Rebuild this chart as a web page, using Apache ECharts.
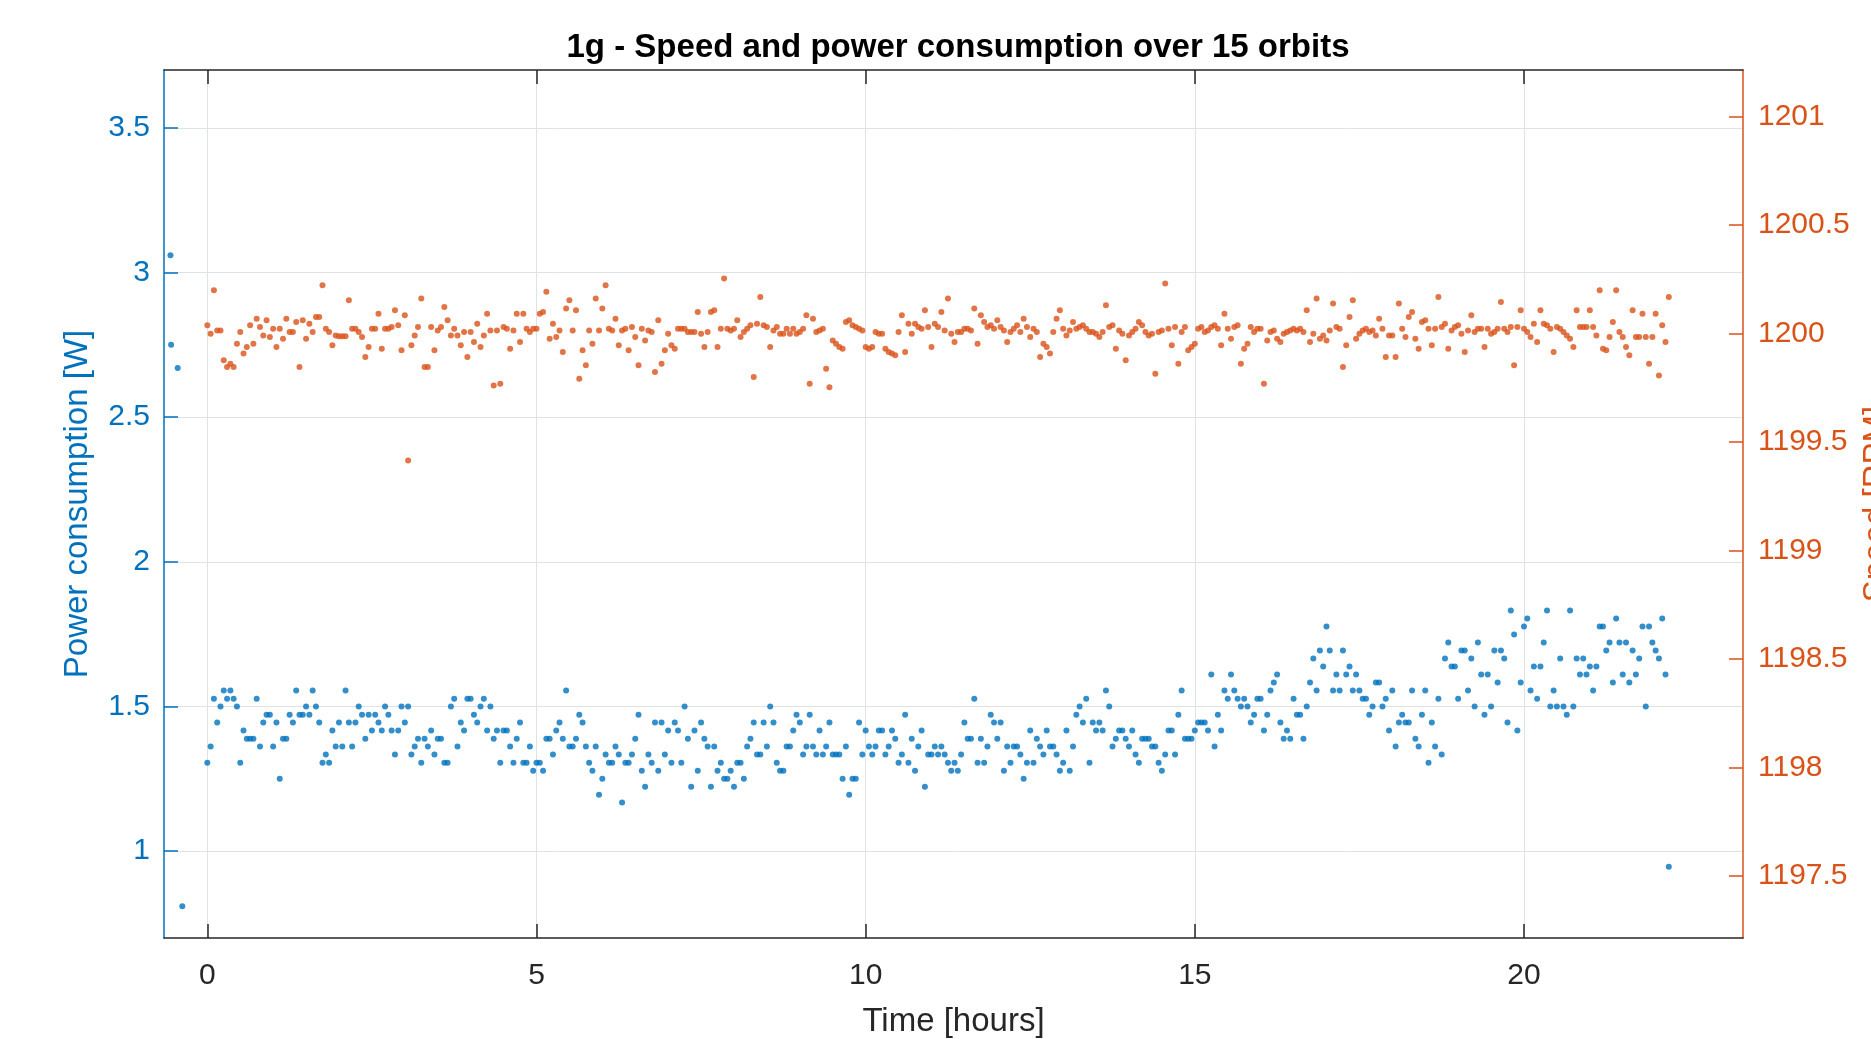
<!DOCTYPE html>
<html>
<head>
<meta charset="utf-8">
<title>1g - Speed and power consumption over 15 orbits</title>
<script src="https://cdn.jsdelivr.net/npm/echarts@6/dist/echarts.min.js"></script>
<style>
  html, body { margin: 0; padding: 0; background: #ffffff; }
  #chart { width: 1871px; height: 1039px; }
</style>
</head>
<body>
<div id="chart"></div>
<script>
// start-up samples before t = 0 (power only)
const preTime = [-0.56, -0.55, -0.45, -0.38];
const prePower = [3.06, 2.75, 2.67, 0.81];

// sample times [hours]
const timeH = [
  0,0.05,0.1,0.15,0.2,0.25,0.3,0.35,0.4,0.45,0.5,0.55,0.6,0.65,0.7,0.75,0.8,0.85,0.9,0.95,
  1,1.05,1.1,1.15,1.2,1.25,1.3,1.35,1.4,1.45,1.5,1.55,1.6,1.65,1.7,1.75,1.8,1.85,1.9,1.95,
  2,2.05,2.1,2.15,2.2,2.25,2.3,2.35,2.4,2.45,2.5,2.55,2.6,2.65,2.7,2.75,2.8,2.85,2.9,2.95,
  3,3.05,3.1,3.15,3.2,3.25,3.3,3.35,3.4,3.45,3.5,3.55,3.6,3.65,3.7,3.75,3.8,3.85,3.9,3.95,
  4,4.05,4.1,4.15,4.2,4.25,4.3,4.35,4.4,4.45,4.5,4.55,4.6,4.65,4.7,4.75,4.8,4.85,4.9,4.95,
  5,5.05,5.1,5.15,5.2,5.25,5.3,5.35,5.4,5.45,5.5,5.55,5.6,5.65,5.7,5.75,5.8,5.85,5.9,5.95,
  6,6.05,6.1,6.15,6.2,6.25,6.3,6.35,6.4,6.45,6.5,6.55,6.6,6.65,6.7,6.75,6.8,6.85,6.9,6.95,
  7,7.05,7.1,7.15,7.2,7.25,7.3,7.35,7.4,7.45,7.5,7.55,7.6,7.65,7.7,7.75,7.8,7.85,7.9,7.95,
  8,8.05,8.1,8.15,8.2,8.25,8.3,8.35,8.4,8.45,8.5,8.55,8.6,8.65,8.7,8.75,8.8,8.85,8.9,8.95,
  9,9.05,9.1,9.15,9.2,9.25,9.3,9.35,9.4,9.45,9.5,9.55,9.6,9.65,9.7,9.75,9.8,9.85,9.9,9.95,
  10,10.05,10.1,10.15,10.2,10.25,10.3,10.35,10.4,10.45,10.5,10.55,10.6,10.65,10.7,10.75,10.8,10.85,10.9,10.95,
  11,11.05,11.1,11.15,11.2,11.25,11.3,11.35,11.4,11.45,11.5,11.55,11.6,11.65,11.7,11.75,11.8,11.85,11.9,11.95,
  12,12.05,12.1,12.15,12.2,12.25,12.3,12.35,12.4,12.45,12.5,12.55,12.6,12.65,12.7,12.75,12.8,12.85,12.9,12.95,
  13,13.05,13.1,13.15,13.2,13.25,13.3,13.35,13.4,13.45,13.5,13.55,13.6,13.65,13.7,13.75,13.8,13.85,13.9,13.95,
  14,14.05,14.1,14.15,14.2,14.25,14.3,14.35,14.4,14.45,14.5,14.55,14.6,14.65,14.7,14.75,14.8,14.85,14.9,14.95,
  15,15.05,15.1,15.15,15.2,15.25,15.3,15.35,15.4,15.45,15.5,15.55,15.6,15.65,15.7,15.75,15.8,15.85,15.9,15.95,
  16,16.05,16.1,16.15,16.2,16.25,16.3,16.35,16.4,16.45,16.5,16.55,16.6,16.65,16.7,16.75,16.8,16.85,16.9,16.95,
  17,17.05,17.1,17.15,17.2,17.25,17.3,17.35,17.4,17.45,17.5,17.55,17.6,17.65,17.7,17.75,17.8,17.85,17.9,17.95,
  18,18.05,18.1,18.15,18.2,18.25,18.3,18.35,18.4,18.45,18.5,18.55,18.6,18.65,18.7,18.75,18.8,18.85,18.9,18.95,
  19,19.05,19.1,19.15,19.2,19.25,19.3,19.35,19.4,19.45,19.5,19.55,19.6,19.65,19.7,19.75,19.8,19.85,19.9,19.95,
  20,20.05,20.1,20.15,20.2,20.25,20.3,20.35,20.4,20.45,20.5,20.55,20.6,20.65,20.7,20.75,20.8,20.85,20.9,20.95,
  21,21.05,21.1,21.15,21.2,21.25,21.3,21.35,21.4,21.45,21.5,21.55,21.6,21.65,21.7,21.75,21.8,21.85,21.9,21.95,
  22,22.05,22.1,22.15,22.2
];

// power consumption [W]
const power = [
  1.306,1.362,1.527,1.445,1.500,1.555,1.527,1.555,1.527,1.500,
  1.306,1.417,1.389,1.389,1.389,1.527,1.362,1.445,1.472,1.472,
  1.362,1.445,1.250,1.389,1.389,1.472,1.445,1.555,1.472,1.472,
  1.500,1.472,1.555,1.500,1.445,1.306,1.334,1.306,1.417,1.362,
  1.445,1.362,1.555,1.445,1.362,1.445,1.500,1.472,1.389,1.472,
  1.417,1.472,1.445,1.417,1.500,1.472,1.417,1.334,1.417,1.500,
  1.445,1.500,1.334,1.362,1.389,1.306,1.389,1.362,1.417,1.334,
  1.389,1.389,1.306,1.306,1.500,1.527,1.362,1.445,1.417,1.527,
  1.527,1.472,1.445,1.500,1.527,1.417,1.500,1.389,1.417,1.306,
  1.417,1.417,1.362,1.306,1.389,1.445,1.306,1.306,1.362,1.278,
  1.306,1.306,1.278,1.389,1.389,1.334,1.417,1.445,1.389,1.555,
  1.362,1.362,1.389,1.472,1.445,1.362,1.306,1.278,1.362,1.195,
  1.250,1.334,1.306,1.306,1.362,1.334,1.168,1.306,1.306,1.334,
  1.389,1.472,1.278,1.223,1.334,1.306,1.445,1.278,1.445,1.334,
  1.417,1.306,1.445,1.417,1.306,1.500,1.389,1.223,1.417,1.278,
  1.445,
  1.389,1.362,1.223,1.362,1.278,1.306,1.250,1.250,1.278,1.223,
  1.306,1.306,1.250,1.362,1.389,1.445,1.334,1.334,1.445,1.362,
  1.500,1.445,1.306,1.278,1.278,1.362,1.362,1.417,1.472,1.445,
  1.334,1.362,1.472,1.362,1.334,1.417,1.334,1.362,1.445,1.334,
  1.334,1.334,1.250,1.362,1.195,1.250,1.250,1.445,1.334,1.417,
  1.362,1.334,1.362,1.417,1.417,1.334,1.362,1.417,1.389,1.306,
  1.334,1.472,1.306,1.389,1.278,1.362,1.417,1.223,1.334,1.334,
  1.362,1.334,1.362,1.334,1.306,1.278,1.306,1.278,1.334,1.445,
  1.389,1.389,1.527,1.306,1.389,1.306,1.362,1.472,1.445,1.389,
  1.445,1.278,1.362,1.306,1.362,1.362,1.334,1.250,1.306,1.417,
  1.306,1.389,1.362,1.334,1.417,1.362,1.362,1.334,1.278,1.306,
  1.417,1.278,1.362,1.472,1.500,1.445,1.527,1.306,1.445,1.417,
  1.445,1.417,1.555,1.500,1.362,1.389,1.417,1.417,1.389,1.362,
  1.417,1.334,1.306,1.389,1.389,1.389,1.362,1.362,1.306,1.278,
  1.334,1.417,1.417,1.334,1.472,1.555,1.389,1.389,
  1.389,1.417,1.445,1.445,1.445,1.417,1.611,1.362,1.472,1.417,
  1.555,1.527,1.611,1.555,1.527,1.500,1.527,1.500,1.445,1.472,
  1.527,1.527,1.417,1.472,1.555,1.583,1.611,1.445,1.389,1.417,
  1.389,1.527,1.472,1.472,1.389,1.500,1.583,1.666,1.555,1.694,
  1.638,1.777,1.694,1.555,1.611,1.555,1.694,1.611,1.638,1.555,
  1.611,1.555,1.527,1.527,1.472,1.500,1.583,1.583,1.500,1.527,
  1.417,1.555,1.362,1.445,1.472,1.445,1.445,1.555,1.389,1.362,
  1.472,1.555,1.306,1.445,1.362,1.527,1.334,1.666,1.721,1.638,
  1.638,1.527,1.694,1.694,1.555,1.666,1.500,1.721,1.611,1.472,
  1.611,1.500,1.694,1.583,1.694,1.666,1.445,1.832,1.749,1.417,
  1.583,1.777,1.804,1.555,1.638,1.527,1.638,1.721,1.832,1.500,
  1.555,1.500,1.666,1.500,1.472,1.832,1.500,1.666,1.611,1.666,
  1.611,1.638,1.555,1.638,1.777,1.777,1.694,1.721,1.583,1.804,
  1.721,1.611,1.721,1.583,1.694,1.611,1.666,1.777,1.500,1.777,
  1.721,1.694,1.666,1.804,1.611,
  0.946
];

// speed [RPM]
const speed = [
  1200.039,1200.000,1200.200,1200.015,1200.015,1199.877,1199.846,1199.861,1199.846,1199.954,
  1200.008,1199.908,1199.938,1200.039,1199.954,1200.069,1200.031,1199.992,1200.062,1199.985,
  1200.023,1199.938,1200.023,1199.977,1200.069,1200.008,1200.008,1200.054,1199.846,1200.062,
  1199.977,1200.046,1200.008,1200.077,1200.077,1200.223,1200.023,1200.008,1199.946,1199.992,
  1199.988,1199.988,1199.988,1200.154,1200.023,1200.023,1200.008,1199.985,1199.892,1199.938,
  1200.023,1200.023,1200.092,1199.931,1200.023,1200.023,1200.031,1200.108,1200.039,1199.923,
  1200.085,1199.415,1199.946,1199.992,1200.031,1200.162,1199.846,1199.846,1200.031,1199.923,
  1200.015,1200.031,1200.123,1200.062,1199.992,1200.023,1199.992,1199.946,1200.008,1199.892,
  1200.008,1199.961,1200.046,1199.938,1199.992,1200.092,1200.015,1199.761,1200.015,1199.769,
  1200.031,1200.023,1199.931,1200.015,1200.092,1199.961,1200.092,1200.023,1200.008,1200.023,
  1200.023,1200.092,1200.100,1200.193,1199.977,1200.046,1199.985,1200.015,1199.915,1200.116,
  1200.154,1200.015,1200.108,1199.792,1199.923,1199.854,1200.015,1199.954,1200.162,1200.015,
  1200.116,1200.223,1200.023,1200.015,1200.069,1199.946,1200.015,1200.023,1199.923,1200.031,
  1199.985,1199.854,1200.023,1199.969,1200.015,1200.008,1199.823,1200.062,1199.861,1199.923,
  1200.000,1199.946,1199.931,1200.023,1200.023,1200.023,1200.008,1200.008,1200.008,1200.100,
  1200.000,1199.938,1200.008,1200.100,1200.108,1199.938,1200.023,1200.254,1200.023,1200.015,
  1200.023,1200.062,1199.985,1200.008,1200.023,1200.039,1199.800,1200.046,1200.169,1200.039,
  1200.031,1199.938,1200.015,1200.031,1200.000,1200.000,1200.023,1200.000,1200.023,1200.000,
  1200.008,1200.023,1200.085,1199.769,1200.069,1200.008,1200.015,1200.023,1199.838,1199.753,
  1199.969,1199.954,1199.938,1199.931,1200.054,1200.062,1200.039,1200.031,1200.023,1200.015,
  1199.938,1199.931,1199.938,1200.008,1200.000,1200.000,1199.931,1199.915,1199.908,1199.900,
  1200.008,1200.085,1199.915,1200.046,1200.000,1200.046,1200.031,1200.023,1200.108,1200.031,
  1199.938,1200.046,
  1200.031,1200.100,1200.015,1200.162,1200.000,1199.961,1200.008,1200.008,1200.023,1200.023,
  1200.015,1200.116,1199.954,1200.085,1200.054,1200.031,1200.039,1200.023,1200.062,1200.031,
  1200.015,1199.961,1200.008,1200.023,1200.039,1200.008,1200.069,1200.031,1199.985,1200.023,
  1200.008,1199.892,1199.954,1199.938,1199.908,1200.008,1200.069,1200.108,1200.023,1199.992,
  1200.015,
  1200.054,1200.023,1200.031,1200.039,1200.023,1200.008,1200.008,1200.000,1199.985,1200.008,
  1200.131,1200.031,1200.039,1199.931,1200.015,1200.000,1199.877,1199.992,1200.008,1200.023,
  1200.054,1200.039,1200.008,1199.992,1200.000,1199.815,1200.008,1200.015,1200.231,1200.023,
  1199.946,1200.031,1199.861,1200.008,1200.031,1199.923,1199.938,1199.954,1200.023,1200.031,
  1200.008,
  1200.015,1200.031,1200.039,1200.023,1199.946,1200.092,1200.023,1199.977,1200.031,1200.039,
  1199.861,1199.931,1199.954,1200.031,1200.008,1200.023,1200.023,1199.769,1199.969,1200.008,
  1200.015,1199.977,1199.961,1200.000,1200.008,1200.015,1200.023,1200.015,1200.023,1200.008,
  1200.108,1199.961,1200.000,1200.162,1199.977,1199.992,1199.969,1200.015,1200.139,1200.031,
  1200.023,
  1199.846,1199.946,1200.077,1200.154,1199.977,1200.000,1200.015,1200.023,1200.008,1200.015,
  1199.992,1200.069,1200.023,1199.892,1199.992,1199.992,1199.892,1200.139,1200.023,1199.985,
  1200.077,1200.100,1199.977,1199.931,1200.054,1200.062,1200.023,1199.946,1200.023,1200.169,
  1200.031,1200.046,1199.931,1200.015,1200.031,1200.039,1200.000,1199.915,1200.015,1200.085,
  1200.008,
  1200.023,1200.023,1199.938,1200.023,1200.000,1200.008,1200.023,1200.146,1200.023,1200.008,
  1200.031,1199.854,1200.031,1200.108,1200.023,1200.008,1199.985,1200.046,1199.961,1200.108,
  1200.046,1200.039,1200.023,1199.915,1200.031,1200.023,1200.008,1199.992,1199.977,1199.938,
  1200.108,1200.031,1200.031,1200.031,1200.108,1200.031,1199.992,1200.200,1199.931,1199.923,
  1199.985,
  1200.054,1200.200,1200.008,1199.985,1199.938,1199.900,1200.108,1199.985,1199.985,1200.092,
  1199.985,1199.861,1199.985,1200.092,1199.807,1200.039,1199.961,1200.169
];

const timeTicks = [0, 5, 10, 15, 20];
const powerTicks = [1, 1.5, 2, 2.5, 3, 3.5];
const speedTicks = [1197.5, 1198, 1198.5, 1199, 1199.5, 1200, 1200.5, 1201];

const blue = '#0072BD';
const orange = '#D95319';
const dark = '#262626';
const font = 'Liberation Sans, Arial, Helvetica, sans-serif';

const powerData = preTime.map((t, i) => [t, prePower[i]])
  .concat(timeH.map((t, i) => [t, power[i]]));
const speedData = timeH.map((t, i) => [t, speed[i]]);

const myChart = echarts.init(document.getElementById('chart'));
myChart.setOption({
  animation: false,
  backgroundColor: '#ffffff',
  title: {
    text: '1g - Speed and power consumption over 15 orbits',
    left: 953,
    top: 26,
    textAlign: 'center',
    textStyle: { fontFamily: font, fontSize: 33, fontWeight: 'bold', color: '#000000' }
  },
  grid: {
    left: 164,
    right: 128,
    top: 70,
    bottom: 101,
    containLabel: false,
    outerBoundsMode: 'none'
  },
  xAxis: [{
    type: 'value',
    position: 'bottom',
    min: -0.658,
    max: 23.327,
    splitNumber: 5,
    name: 'Time [hours]',
    nameLocation: 'middle',
    nameGap: 67,
    nameTextStyle: { fontFamily: font, fontSize: 33, color: dark },
    axisLine: { show: true, onZero: false, lineStyle: { color: dark, width: 1.5 } },
    axisTick: { show: true, inside: true, length: 14, customValues: timeTicks, lineStyle: { color: dark, width: 1.5 } },
    axisLabel: { customValues: timeTicks, margin: 23, fontFamily: font, fontSize: 30, color: dark },
    splitLine: { show: true, lineStyle: { color: '#dfe3e8', width: 1 } }
  }, {
    type: 'value',
    position: 'top',
    min: -0.658,
    max: 23.327,
    axisLine: { show: true, onZero: false, lineStyle: { color: dark, width: 1.5 } },
    axisTick: { show: true, inside: true, length: 14, customValues: timeTicks, lineStyle: { color: dark, width: 1.5 } },
    axisLabel: { show: false },
    splitLine: { show: false }
  }],
  yAxis: [{
    type: 'value',
    position: 'left',
    min: 0.7,
    max: 3.7,
    splitNumber: 6,
    name: 'Power consumption [W]',
    nameLocation: 'middle',
    nameGap: 70,
    nameTextStyle: { fontFamily: font, fontSize: 33, color: blue },
    axisLine: { show: true, onZero: false, lineStyle: { color: blue, width: 1.5 } },
    axisTick: { show: true, inside: true, length: 14, customValues: powerTicks, lineStyle: { color: blue, width: 1.5 } },
    axisLabel: { customValues: powerTicks, margin: 14, fontFamily: font, fontSize: 30, color: blue },
    splitLine: { show: true, lineStyle: { color: '#dfe3e8', width: 1 } }
  }, {
    type: 'value',
    position: 'right',
    min: 1197.215,
    max: 1201.215,
    name: 'Speed [RPM]',
    nameLocation: 'middle',
    nameRotate: 90,
    nameGap: 106,
    nameTextStyle: { fontFamily: font, fontSize: 33, color: orange },
    axisLine: { show: true, onZero: false, lineStyle: { color: orange, width: 1.5 } },
    axisTick: { show: true, inside: true, length: 14, customValues: speedTicks, lineStyle: { color: orange, width: 1.5 } },
    axisLabel: {
      customValues: speedTicks,
      margin: 15,
      fontFamily: font,
      fontSize: 30,
      color: orange,
      formatter: function (v) { return String(v); }
    },
    splitLine: { show: false }
  }],
  series: [{
    name: 'Power',
    type: 'scatter',
    xAxisIndex: 0,
    yAxisIndex: 0,
    symbol: 'circle',
    symbolSize: 6,
    itemStyle: { color: blue },
    data: powerData
  }, {
    name: 'Speed',
    type: 'scatter',
    xAxisIndex: 0,
    yAxisIndex: 1,
    symbol: 'circle',
    symbolSize: 6,
    itemStyle: { color: orange },
    data: speedData
  }]
});
</script>
</body>
</html>
